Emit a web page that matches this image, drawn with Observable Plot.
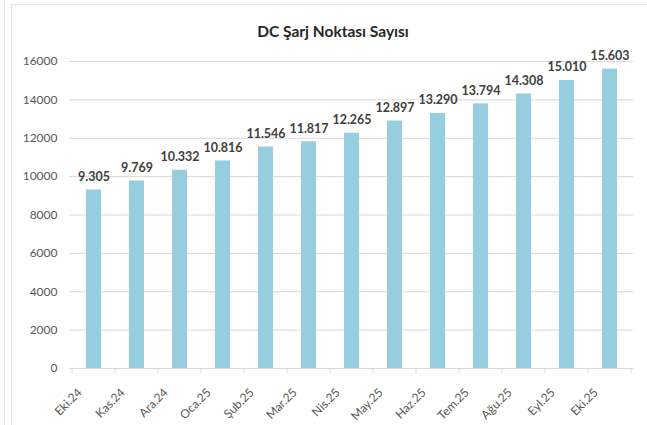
<!DOCTYPE html>
<html>
<head>
<meta charset="utf-8">
<script src="https://cdn.jsdelivr.net/npm/d3@7"></script>
<script src="https://cdn.jsdelivr.net/npm/@observablehq/plot@0.6"></script>
<style>
  html, body { margin: 0; padding: 0; background: #fff; }
  #wrap { position: relative; width: 647px; height: 425px; overflow: hidden; font-family: Lato, "Open Sans", sans-serif; }
  #title { position: absolute; left: 0; top: 0; width: 647px; height: 45px; box-sizing: border-box; padding-left: 19px;
           text-align: center; font-weight: bold; font-size: 15.5px; line-height: 62px; color: #262626; }
  #chart { position: absolute; left: 0; top: 45px; }
  .bl1 { position: absolute; left: 4px; top: 0; width: 1px; height: 425px; background: #e3e3e3; }
  .bl2 { position: absolute; left: 11px; top: 4px; width: 700px; height: 430px; border-left: 1px solid #e3e3e3; border-top: 1px solid #e3e3e3; }
</style>
</head>
<body>
<div id="wrap">
  <div class="bl1"></div>
  <div class="bl2"></div>
  <div id="chart"></div>
  <div id="title">DC Şarj Noktası Sayısı</div>
</div>
<script>
const categories = ["Eki.24","Kas.24","Ara.24","Oca.25","Şub.25","Mar.25","Nis.25","May.25","Haz.25","Tem.25","Ağu.25","Eyl.25","Eki.25"];
const values = [9305, 9769, 10332, 10816, 11546, 11817, 12265, 12897, 13290, 13794, 14308, 15010, 15603];
const yTicks = [0, 2000, 4000, 6000, 8000, 10000, 12000, 14000, 16000];

const data = categories.map((c, i) => ({month: c, value: values[i]}));
const trFormat = d3.formatLocale({decimal: ",", thousands: ".", grouping: [3], currency: ["", ""]}).format(",d");

// Excel-style tick marks at category boundaries, placed via the x band scale
function boundaryTicks(index, scales, vals, dims) {
  const x = scales.x, y = scales.y;
  const bw = x.bandwidth();
  const pos = categories.map(c => x(c)).concat([x(categories[categories.length - 1]) + bw]);
  const g = d3.create("svg:g").attr("stroke", "#d9d9d9");
  for (const p of pos) {
    g.append("line").attr("x1", p).attr("x2", p).attr("y1", y(0)).attr("y2", y(0) + 5);
  }
  return g.node();
}

const chart = Plot.plot({
  width: 647,
  height: 380,
  marginLeft: 69,
  marginRight: 14,
  marginTop: 16,
  marginBottom: 57,
  style: {fontFamily: "Lato, 'Open Sans', sans-serif", fontSize: "12px", color: "#595959", background: "transparent"},
  x: {domain: categories, padding: 0, label: null},
  y: {domain: [0, 16000], ticks: yTicks, label: null},
  marks: [
    Plot.gridY(yTicks, {stroke: "#d9d9d9", strokeOpacity: 1}),
    Plot.barY(data, {x: "month", y: "value", fill: "#96cedf", insetLeft: 14, insetRight: 14}),
    Plot.ruleY([0], {stroke: "#d9d9d9"}),
    boundaryTicks,
    Plot.text(data, {x: "month", y: "value", text: d => trFormat(d.value), dy: -9, lineAnchor: "bottom",
                     fontWeight: "bold", fill: "#404040", fontSize: 12.5}),
    Plot.axisY({ticks: yTicks, tickSize: 0, tickPadding: 12, tickFormat: d => String(d), fill: "#595959"}),
    Plot.axisX({tickRotate: -45, tickSize: 0, tickPadding: 8, dx: -14, dy: 14, fill: "#595959"})
  ]
});
document.getElementById("chart").appendChild(chart);
</script>
</body>
</html>
